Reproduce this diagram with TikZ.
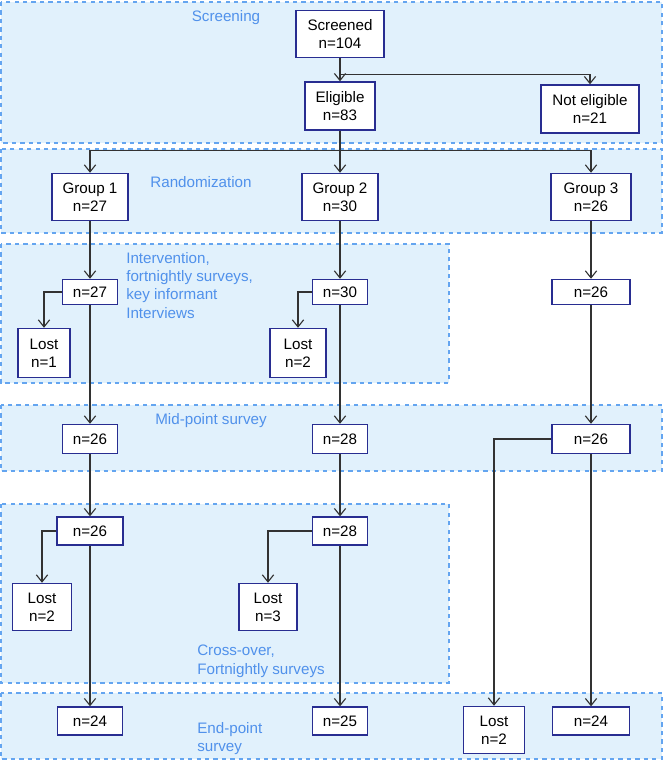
\documentclass[tikz,border=0pt]{standalone}
\usepackage{fontspec}
\setmainfont{Liberation Sans}
\usetikzlibrary{arrows.meta}
\definecolor{bandfill}{RGB}{225,241,252}
\definecolor{banddraw}{RGB}{100,165,240}
\definecolor{bandtext}{RGB}{80,145,235}
\definecolor{boxdraw}{RGB}{40,45,145}
\definecolor{linecol}{RGB}{50,50,50}
\tikzset{>={Straight Barb[length=5pt,width=8pt]}}
\tikzset{box/.style={draw=boxdraw,fill=white,line width=0.9pt,align=center,inner sep=1pt,
    font=\fontsize{10.8}{13}\selectfont}}
\tikzset{band/.style={draw=banddraw,fill=bandfill,dashed,line width=0.8pt}}
\tikzset{lbl/.style={text=bandtext,inner sep=0pt,align=left,font=\fontsize{10.8}{13}\selectfont}}
\tikzset{flow/.style={->,draw=linecol,line width=0.8pt}}

\begin{document}
\begin{tikzpicture}[x=0.025cm,y=-0.025cm]
    \useasboundingbox (0,0) rectangle (664,760);
    % phases
    \draw[band] (1,2) rectangle (662,143);
    \draw[band] (1,149) rectangle (662,233);
    \draw[band] (1,244) rectangle (449,383);
    \draw[band] (1,405) rectangle (662,471);
    \draw[band] (1,504) rectangle (449,683);
    \draw[band] (1,693) rectangle (662,759);

    \node[lbl] (tscr) at (226,18) {Screening};
    \node[lbl] (trand) at (201,182) {Randomization};
    \node[lbl,anchor=north west] (tint) at (126,252) {Intervention,\\fortnightly surveys,\\key informant\\Interviews};
    \node[lbl] (tmid) at (211,421) {Mid-point survey};
    \node[lbl,anchor=north west] (tcross) at (197,645) {Cross-over,\\Fortnightly surveys};
    \node[lbl,anchor=north west] (tend) at (197,722) {End-point\\survey};

    % screening
    \node[box,minimum width=2.2cm,minimum height=1.18cm] (scr) at (340,34) {Screened\\n=104};
    \node[box,minimum width=1.75cm,minimum height=1.2cm] (elig) at (340,106) {Eligible\\n=83};
    \node[box,minimum width=2.45cm,minimum height=1.2cm] (nel) at (590,109) {Not eligible\\n=21};

    % groups
    \node[box,minimum width=1.9cm,minimum height=1.18cm] (g1) at (90,197) {Group 1\\n=27};
    \node[box,minimum width=1.9cm,minimum height=1.18cm] (g2) at (340,197) {Group 2\\n=30};
    \node[box,minimum width=2cm,minimum height=1.18cm] (g3) at (591,197) {Group 3\\n=26};

    % intervention
    \node[box,minimum width=1.38cm,minimum height=0.63cm] (a1) at (90,292) {n=27};
    \node[box,minimum width=1.38cm,minimum height=0.63cm] (a2) at (340,292) {n=30};
    \node[box,minimum width=1.95cm,minimum height=0.63cm] (a3) at (591,292) {n=26};
    \node[box,minimum width=1.3cm,minimum height=1.23cm] (la1) at (44,353) {Lost\\n=1};
    \node[box,minimum width=1.4cm,minimum height=1.23cm] (la2) at (298,353) {Lost\\n=2};

    % mid-point
    \node[box,minimum width=1.38cm,minimum height=0.73cm] (m1) at (90,439) {n=26};
    \node[box,minimum width=1.38cm,minimum height=0.73cm] (m2) at (340,439) {n=28};
    \node[box,minimum width=1.95cm,minimum height=0.73cm] (m3) at (591,439) {n=26};

    % cross-over
    \node[box,minimum width=1.65cm,minimum height=0.7cm] (c1) at (90,531) {n=26};
    \node[box,minimum width=1.38cm,minimum height=0.7cm] (c2) at (340,531) {n=28};
    \node[box,minimum width=1.48cm,minimum height=1.18cm] (lc1) at (42,607) {Lost\\n=2};
    \node[box,minimum width=1.45cm,minimum height=1.18cm] (lc2) at (268,607) {Lost\\n=3};

    % end-point
    \node[box,minimum width=1.63cm,minimum height=0.7cm] (e1) at (90,721) {n=24};
    \node[box,minimum width=1.38cm,minimum height=0.7cm] (e2) at (340,721) {n=25};
    \node[box,minimum width=1.53cm,minimum height=1.18cm] (le3) at (494,730) {Lost\\n=2};
    \node[box,minimum width=1.93cm,minimum height=0.7cm] (e3) at (591,721) {n=24};

    % connectors
    \draw[flow] (scr.south) -- (elig.north);
    \draw[flow] (scr.south) -- ++(0,16) -| (nel.north);
    \draw[flow] (elig.south) -- ++(0,20) -| (g1.north);
    \draw[flow] (elig.south) -- (g2.north);
    \draw[flow] (elig.south) -- ++(0,20) -| (g3.north);

    \draw[flow] (g1.south) -- (a1.north);
    \draw[flow] (g2.south) -- (a2.north);
    \draw[flow] (g3.south) -- (a3.north);
    \draw[flow] (a1.west) -| (la1.north);
    \draw[flow] (a2.west) -| (la2.north);

    \draw[flow] (a1.south) -- (m1.north);
    \draw[flow] (a2.south) -- (m2.north);
    \draw[flow] (a3.south) -- (m3.north);

    \draw[flow] (m1.south) -- (c1.north);
    \draw[flow] (m2.south) -- (c2.north);
    \draw[flow] (c1.west) -| (lc1.north);
    \draw[flow] (c2.west) -| (lc2.north);
    \draw[flow] (m3.west) -| (le3.north);

    \draw[flow] (c1.south) -- (e1.north);
    \draw[flow] (c2.south) -- (e2.north);
    \draw[flow] (m3.south) -- (e3.north);
\end{tikzpicture}
\end{document}
